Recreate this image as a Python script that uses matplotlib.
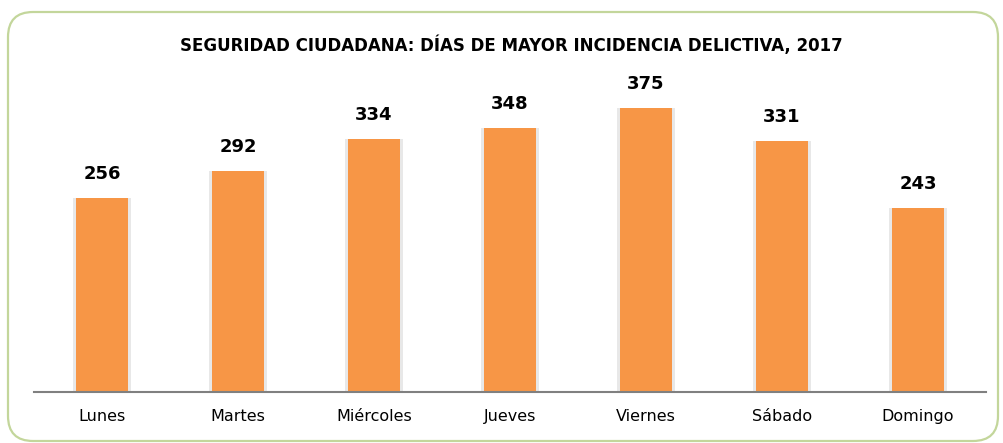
import matplotlib.pyplot as plt
from matplotlib.patches import FancyBboxPatch

# data
dias = ['Lunes', 'Martes', 'Miércoles', 'Jueves', 'Viernes', 'Sábado', 'Domingo']
casos = [256, 292, 334, 348, 375, 331, 243]

titulo = 'SEGURIDAD CIUDADANA: DÍAS DE MAYOR INCIDENCIA DELICTIVA, 2017'
naranja = '#F79646'

W, H = 1004, 443
fig = plt.figure(figsize=(W / 100, H / 100), dpi=100)

# rounded green frame
marco = FancyBboxPatch((8 / W, 2 / H), (W - 14) / W, (H - 14) / H,
                       boxstyle='round,pad=0,rounding_size=0.025',
                       transform=fig.transFigure, facecolor='none',
                       edgecolor='#C3D69B', linewidth=1.6, mutation_aspect=W / H,
                       zorder=-1)
fig.patches.append(marco)

ax = fig.add_axes([34 / W, (H - 392) / H, 952 / W, 312 / H])
ax.set_facecolor('none')

x = range(len(dias))
# soft shadow behind bars
ax.bar(x, casos, width=0.43, color='#D9D9D9', alpha=0.6, zorder=1)
barras = ax.bar(x, casos, width=0.38, color=naranja, zorder=2)

for xi, v in zip(x, casos):
    ax.text(xi, v + 20, str(v), ha='center', va='bottom',
            fontsize=13, fontweight='bold', color='black')

ax.set_xlim(-0.5, len(dias) - 0.5)
ax.set_ylim(0, 412)
ax.set_xticks(list(x))
ax.set_xticklabels(dias, fontsize=11.5)
ax.tick_params(axis='x', length=0, pad=12)
ax.set_yticks([])
for s in ['top', 'right', 'left']:
    ax.spines[s].set_visible(False)
ax.spines['bottom'].set_color('#808080')
ax.spines['bottom'].set_linewidth(1.5)

fig.text(511 / W, (H - 45) / H, titulo, ha='center', va='center',
         fontsize=12, fontweight='bold')

fig.savefig('out.png', dpi=100)
